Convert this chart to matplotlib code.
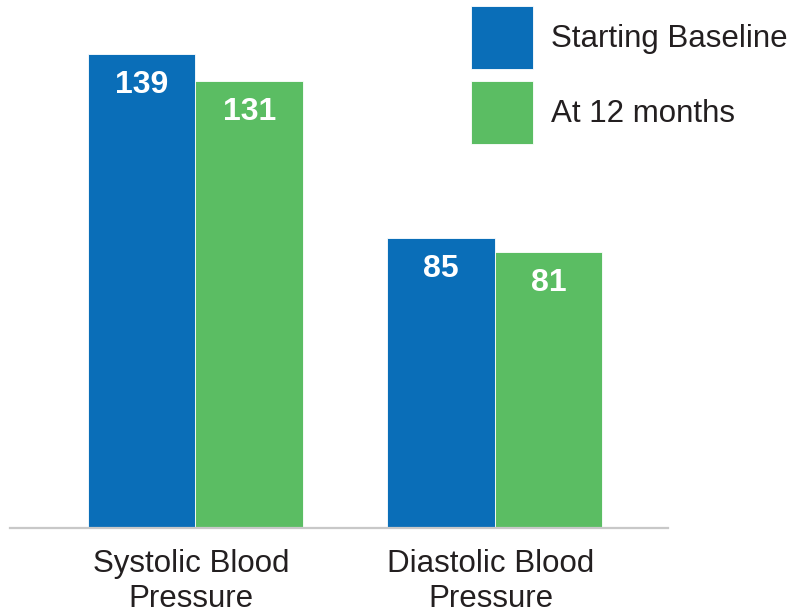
import matplotlib.pyplot as plt
import matplotlib.transforms as mtrans
import numpy as np

plt.rcParams['font.family'] = ['Liberation Sans', 'DejaVu Sans']

categorias = ['Systolic Blood\nPressure', 'Diastolic Blood\nPressure']
series = ['Starting Baseline', 'At 12 months']
baseline = [139, 85]
meses12 = [131, 81]

azul = '#0A6EB8'
verde = '#5BBD63'
texto = '#231F20'


def main():
    fig = plt.figure(figsize=(8.06, 6.14), dpi=100)
    ax = fig.add_axes([10 / 806, 86 / 614, 658 / 806, 528 / 614])

    x = np.arange(len(categorias))
    w = 0.36

    b1 = ax.bar(x - w / 2, baseline, w, color=azul, label=series[0],
                edgecolor='white', linewidth=0.6)
    b2 = ax.bar(x + w / 2, meses12, w, color=verde, label=series[1],
                edgecolor='white', linewidth=0.6)

    # ... valores dentro das barras
    for barras, vals in ((b1, baseline), (b2, meses12)):
        for b, v in zip(barras, vals):
            ax.annotate(str(v), (b.get_x() + b.get_width() / 2, v),
                        xytext=(0, -31), textcoords='offset pixels',
                        ha='center', va='center', color='white',
                        fontsize=23, fontweight='bold')

    ax.set_xlim(-0.62, 1.58)
    ax.set_ylim(0, 154.8)

    for s in ('top', 'left', 'right'):
        ax.spines[s].set_visible(False)
    ax.spines['bottom'].set_color('#C8C8C8')
    ax.spines['bottom'].set_linewidth(1.6)
    ax.set_yticks([])
    ax.set_xticks(x)
    ax.set_xticklabels(categorias, fontsize=22.5, color=texto, linespacing=1.23)
    ax.tick_params(axis='x', length=0, pad=15)
    desloc = mtrans.ScaledTranslation(-4 / 100, 0, fig.dpi_scale_trans)
    for lbl in ax.get_xticklabels():
        lbl.set_transform(lbl.get_transform() + desloc)

    leg = fig.legend(handles=[b1, b2], labels=series, loc='upper left',
                     bbox_to_anchor=(471 / 806, 1 - 6 / 614),
                     frameon=False, fontsize=22.5, borderpad=0,
                     borderaxespad=0, handlelength=1.98, handleheight=2.725,
                     handletextpad=0.58, labelspacing=0.38)
    for t in leg.get_texts():
        t.set_color(texto)

    fig.savefig('out.png', dpi=100)


if __name__ == "__main__":
    main()
